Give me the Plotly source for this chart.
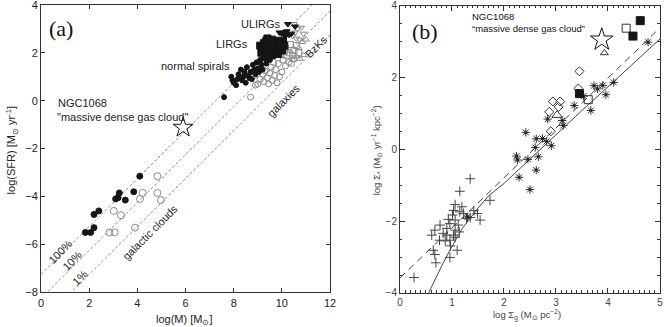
import plotly.graph_objects as go
from plotly.subplots import make_subplots

# ---------------- panel (a) data ----------------
A_LINE_X = [0, 12]
A_LINE_100 = [-7.25, 4.75]
A_LINE_10 = [-8.25, 3.75]
A_LINE_1 = [-9.25, 2.75]

A_CLOUD_FILLED_X = [1.84, 2.06, 2.2, 2.2, 2.4, 3.1, 3.2, 3.25, 3.5, 3.85, 4.1]
A_CLOUD_FILLED_Y = [-5.5, -5.5, -5.3, -4.75, -4.6, -4.1, -4.05, -3.85, -4.15, -3.8, -3.15]
A_CLOUD_OPEN_X = [2.84, 3.06, 3.02, 3.32, 3.9, 4.11, 4.22, 4.83, 4.83, 4.98]
A_CLOUD_OPEN_Y = [-5.5, -5.5, -4.6, -4.78, -5.3, -4.1, -3.85, -3.85, -3.15, -4.15]

A_SPIRAL_X = [7.6, 7.9, 7.95, 8.0, 8.1, 8.15, 8.2, 8.3, 8.35, 8.4, 8.45, 8.5, 8.55, 8.6, 8.7,
              8.75, 8.8, 8.85, 8.9, 8.95, 9.0, 9.05, 9.1, 9.15, 9.2, 9.3, 9.35, 9.4, 8.65, 8.25, 9.5]
A_SPIRAL_Y = [0.15, 1.0, 0.85, 0.75, 0.65, 0.9, 1.1, 1.3, 0.85, 1.0, 1.2, 0.75, 1.4, 1.05, 1.2,
              0.9, 1.5, 1.3, 1.1, 1.6, 1.35, 1.2, 1.7, 1.5, 1.3, 1.75, 1.55, 1.85, 0.95, 0.95, 1.7]

A_LIRG_X = [9.1, 9.15, 9.2, 9.25, 9.3, 9.35, 9.4, 9.45, 9.5, 9.55, 9.6, 9.65, 9.7, 9.75, 9.8,
            9.85, 9.9, 10.0, 10.05, 9.3, 9.4, 9.6, 10.1]
A_LIRG_Y = [2.3, 2.0, 2.15, 2.4, 2.2, 2.5, 2.0, 2.3, 2.1, 2.4, 1.9, 2.25, 2.0, 2.5, 2.2,
            1.95, 2.35, 2.1, 2.5, 1.9, 2.6, 2.55, 2.3]

A_ULIRG_X = [10.25, 9.9, 10.0, 10.1, 10.2, 10.3, 10.4, 10.55, 10.15]
A_ULIRG_Y = [3.2, 2.85, 2.8, 2.85, 2.9, 2.75, 2.8, 3.1, 2.7]

A_OPEN_SQ_X = [10.0, 10.15, 10.3, 10.35, 10.5, 10.6, 10.45, 10.2, 10.7, 10.1]
A_OPEN_SQ_Y = [2.4, 2.2, 2.0, 2.35, 2.1, 2.3, 1.9, 1.9, 2.0, 2.05]

A_OPEN_TD_X = [10.5, 10.65, 10.8, 10.45, 10.6, 10.75, 10.55, 10.9]
A_OPEN_TD_Y = [3.2, 3.0, 3.05, 2.7, 2.6, 2.55, 2.85, 2.8]

A_OPEN_TU_X = [10.45, 10.6, 10.75, 10.9, 10.7, 10.85, 11.0]
A_OPEN_TU_Y = [1.7, 1.85, 1.75, 1.9, 2.2, 2.45, 2.55]

A_GAL_X = [8.7, 8.85, 9.0, 9.1, 9.2, 9.25, 9.3, 9.4, 9.45, 9.5, 9.55, 9.6, 9.7, 9.75,
           9.8, 9.85, 9.9, 10.0, 10.05, 10.15, 10.3, 10.4, 10.5, 8.9, 9.65]
A_GAL_Y = [0.15, 1.05, 0.7, 0.9, 1.1, 0.8, 1.25, 0.95, 0.7, 1.15, 1.4, 0.85, 1.05, 1.3,
           0.75, 1.55, 1.0, 1.2, 1.7, 1.45, 1.6, 1.55, 1.75, 0.65, 1.6]

A_STAR = (5.9, -1.12)

# ---------------- panel (b) data ----------------
B_SOLID_X = [0.55, 0.8, 1.0, 1.2, 1.47, 1.7, 2.0, 2.47, 3.0, 3.5, 4.0, 4.5, 5.0]
B_SOLID_Y = [-4.0, -3.25, -2.7, -2.2, -1.69, -1.3, -0.95, -0.31, 0.42, 1.08, 1.74, 2.4, 3.07]
B_DASH_X = [0, 5]
B_DASH_Y = [-3.58, 3.38]

B_PLUS_X = [1.35, 1.15, 1.06, 1.03, 1.15, 1.22, 1.01, 1.06, 0.93, 1.28, 1.42, 1.49, 1.54, 1.73,
            0.77, 0.67, 0.61, 0.96, 1.12, 1.06, 0.90, 0.83, 0.76, 0.87, 0.96, 1.06, 1.14, 0.97,
            1.10, 0.64, 0.67, 0.96, 0.69, 0.27, 0.90, 1.03, 1.19, 1.35]
B_PLUS_Y = [-0.82, -1.17, -1.54, -1.70, -1.74, -1.79, -1.83, -1.97, -1.95, -1.93, -1.71, -1.79,
            -1.97, -1.42, -2.11, -2.25, -2.39, -2.07, -2.11, -2.25, -2.20, -2.34, -2.53, -2.55,
            -2.53, -2.45, -2.30, -2.69, -2.81, -2.81, -2.93, -3.01, -3.16, -3.57, -2.39, -2.39,
            -1.60, -1.90]

B_AST_X = [2.24, 2.26, 2.29, 2.42, 2.46, 2.50, 2.60, 2.62, 2.62, 2.66, 2.74, 2.82, 2.84, 2.91,
           3.12, 3.14, 3.35, 3.53, 3.67, 3.73, 3.80, 3.90, 3.96, 4.11, 4.77, 1.30]
B_AST_Y = [-0.19, -0.30, -0.78, 0.47, -0.28, -1.12, 0.05, 0.29, -0.58, -0.21, 0.30, 0.22, 0.84,
           0.10, 0.80, 0.66, 1.22, 1.48, 1.08, 1.77, 1.68, 1.78, 1.52, 1.86, 2.98, -1.88]

B_DIAMOND_X = [2.87, 2.90, 2.94, 3.05, 3.08, 3.43, 3.45]
B_DIAMOND_Y = [1.04, 0.50, 1.33, 1.18, 1.33, 1.69, 2.17]

B_TRI_BIG = ([3.02], [0.95])
B_TRI_SMALL = ([3.93], [2.68])
B_OPEN_SQ_X = [4.35, 3.62]
B_OPEN_SQ_Y = [3.37, 1.38]
B_FILLED_SQ_X = [4.62, 4.48, 3.45]
B_FILLED_SQ_Y = [3.58, 3.15, 1.55]
B_STAR = (3.88, 3.05)

BLACK = "#151515"
GREY = "#8a8a8a"
AXIS = "#333333"
SANS = "Liberation Sans, Arial, sans-serif"
SERIF = "Liberation Serif, Times New Roman, serif"

fig = make_subplots(rows=1, cols=2)


def pts(x, y, symbol, size, color, fill=None, width=1.0, col=1):
    fig.add_trace(
        go.Scatter(
            x=x,
            y=y,
            mode="markers",
            marker=dict(symbol=symbol, size=size, color=fill or color,
                        line=dict(color=color, width=width)),
            showlegend=False,
        ),
        row=1,
        col=col,
    )


# panel (a) guide lines
for yy in (A_LINE_100, A_LINE_10, A_LINE_1):
    fig.add_trace(
        go.Scatter(x=A_LINE_X, y=yy, mode="lines",
                   line=dict(color="#777777", width=0.8, dash="3px,2px"), showlegend=False),
        row=1, col=1,
    )

pts(A_GAL_X, A_GAL_Y, "circle-open", 6, GREY)
pts(A_OPEN_SQ_X, A_OPEN_SQ_Y, "square-open", 6, GREY)
pts(A_OPEN_TD_X, A_OPEN_TD_Y, "triangle-down-open", 6, GREY)
pts(A_OPEN_TU_X, A_OPEN_TU_Y, "triangle-up-open", 6, GREY)
pts(A_CLOUD_OPEN_X, A_CLOUD_OPEN_Y, "circle-open", 7, GREY)
pts(A_CLOUD_FILLED_X, A_CLOUD_FILLED_Y, "circle", 6, BLACK)
pts(A_SPIRAL_X, A_SPIRAL_Y, "circle", 5, BLACK)
pts(A_LIRG_X, A_LIRG_Y, "square", 7, BLACK)
pts(A_ULIRG_X, A_ULIRG_Y, "triangle-down", 6, BLACK)
pts([A_STAR[0]], [A_STAR[1]], "star-open", 15, BLACK, width=1)

# panel (b)
fig.add_trace(go.Scatter(x=B_SOLID_X, y=B_SOLID_Y, mode="lines", line=dict(color="#444", width=1),
                         showlegend=False), row=1, col=2)
fig.add_trace(go.Scatter(x=B_DASH_X, y=B_DASH_Y, mode="lines",
                         line=dict(color="#444", width=1, dash="7px,5px"), showlegend=False),
              row=1, col=2)
pts(B_PLUS_X, B_PLUS_Y, "cross-thin-open", 7, "#444", width=1, col=2)
pts(B_AST_X, B_AST_Y, "asterisk-open", 7, "#333", width=1, col=2)
pts(B_AST_X, B_AST_Y, "square", 2.5, "#222", width=0, col=2)
pts(B_DIAMOND_X, B_DIAMOND_Y, "diamond-open", 7, "#333", col=2)
pts(*B_TRI_BIG, "triangle-up-open", 9, "#333", col=2)
pts(*B_TRI_SMALL, "triangle-up-open", 7, "#333", col=2)
pts(B_OPEN_SQ_X, B_OPEN_SQ_Y, "square-open", 8, "#333", col=2)
pts(B_FILLED_SQ_X, B_FILLED_SQ_Y, "square", 8, BLACK, col=2)
pts([B_STAR[0]], [B_STAR[1]], "star-open", 17, BLACK, width=1, col=2)

frame = dict(showline=True, linecolor=AXIS, linewidth=1, mirror="allticks", ticks="inside",
             tickcolor=AXIS, showgrid=False, zeroline=False, automargin=False,
             ticklabeloverflow="allow")

fig.update_xaxes(domain=[0.0615, 0.4948], range=[0, 12], dtick=2, ticklen=4,
                 tickfont=dict(family=SANS, size=11, color="#222"), **frame, row=1, col=1)
fig.update_yaxes(domain=[0.106, 0.985], range=[-8, 4], dtick=2, ticklen=4,
                 tickfont=dict(family=SANS, size=11, color="#222"), **frame, row=1, col=1)
fig.update_xaxes(domain=[0.5997, 0.9895], range=[0, 5], dtick=1, ticklen=5,
                 minor=dict(ticks="inside", dtick=0.1, ticklen=2.5, tickcolor=AXIS),
                 tickfont=dict(family=SANS, size=10, color="#444"), **frame, row=1, col=2)
fig.update_yaxes(domain=[0.104, 0.983], range=[-4, 4], tickvals=[-4, -2, 0, 2, 4],
                 ticktext=["\u22124", "\u22122", "0", "2", "4"], ticklen=5,
                 minor=dict(ticks="inside", dtick=0.5, ticklen=2.5, tickcolor=AXIS),
                 tickfont=dict(family=SANS, size=10, color="#444"), **frame, row=1, col=2)

notes = [
    # panel (a)
    dict(x=0.24, y=3.0, xref="x", yref="y", text="(a)", xanchor="left",
         font=dict(family=SERIF, size=22, color="#111")),
    dict(x=0.62, y=-0.1, xref="x", yref="y", text="NGC1068", xanchor="left"),
    dict(x=0.58, y=-0.68, xref="x", yref="y", text="\"massive dense gas cloud\"", xanchor="left"),
    dict(x=7.93, y=1.46, xref="x", yref="y", text="normal spirals", xanchor="right"),
    dict(x=8.68, y=2.37, xref="x", yref="y", text="LIRGs", xanchor="right"),
    dict(x=10.05, y=3.22, xref="x", yref="y", text="ULIRGs", xanchor="right"),
    dict(x=0.78, y=-6.3, xref="x", yref="y", text="100%", textangle=-45),
    dict(x=1.27, y=-6.68, xref="x", yref="y", text="10%", textangle=-45),
    dict(x=1.6, y=-7.4, xref="x", yref="y", text="1%", textangle=-45),
    dict(x=4.55, y=-5.5, xref="x", yref="y", text="galactic clouds", textangle=-45),
    dict(x=10.05, y=0.0, xref="x", yref="y", text="galaxies", textangle=-45),
    dict(x=11.4, y=2.25, xref="x", yref="y", text="BzKs", textangle=-45),
    dict(x=0.277, y=0.021, xref="paper", yref="paper", text="log(M) [M<sub>\u2299</sub>]",
         font=dict(family=SANS, size=11, color="#222")),
    dict(x=0.018, y=0.54, xref="paper", yref="paper", textangle=-90,
         text="log(SFR) [M<sub>\u2299</sub> yr<sup>-1</sup>]",
         font=dict(family=SANS, size=11, color="#222")),
    # panel (b)
    dict(x=0.2, y=3.28, xref="x2", yref="y2", text="(b)", xanchor="left",
         font=dict(family=SERIF, size=22, color="#111")),
    dict(x=1.35, y=3.7, xref="x2", yref="y2", text="NGC1068", xanchor="left",
         font=dict(family=SANS, size=9.5, color="#111")),
    dict(x=1.35, y=3.35, xref="x2", yref="y2", text="\u201cmassive dense gas cloud\u201d",
         xanchor="left", font=dict(family=SANS, size=9.5, color="#111")),
    dict(x=0.79, y=0.037, xref="paper", yref="paper",
         text="log \u03a3<sub>g</sub> (M<sub>\u2299</sub> pc<sup>\u22122</sup>)",
         font=dict(family=SANS, size=9.5, color="#444")),
    dict(x=0.565, y=0.54, xref="paper", yref="paper", textangle=-90,
         text="log \u03a3<sub>*</sub> (M<sub>\u2299</sub> yr<sup>\u22121</sup> kpc<sup>\u22122</sup>)",
         font=dict(family=SANS, size=9.5, color="#444")),
]
for n in notes:
    n.setdefault("font", dict(family=SANS, size=11, color="#222"))
    n.setdefault("showarrow", False)
    n.setdefault("xanchor", "center")
    n.setdefault("yanchor", "middle")
    fig.add_annotation(**n)

fig.update_layout(
    width=667,
    height=327,
    margin=dict(l=0, r=0, t=0, b=0),
    plot_bgcolor="white",
    paper_bgcolor="white",
)

# the page body has a default 8px margin; drop it so the figure fills the window
fig.write_html(
    "out.html",
    config={"displayModeBar": False},
    post_script="document.body.style.margin = '0px';",
)
